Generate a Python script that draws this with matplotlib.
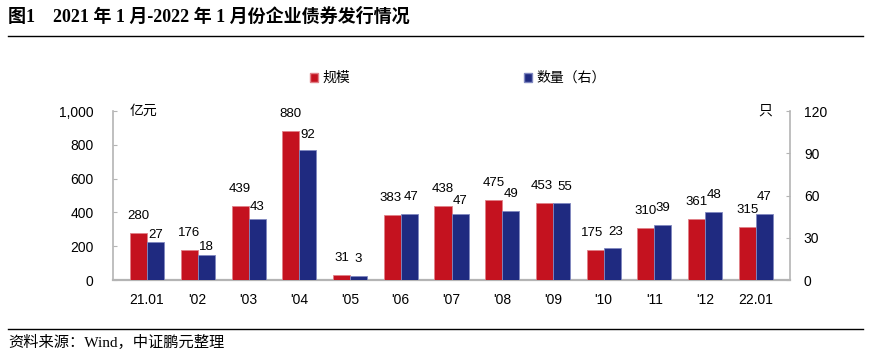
import matplotlib
matplotlib.use("Agg")
import matplotlib.pyplot as plt
import numpy as np
from matplotlib.patches import Patch
from matplotlib.lines import Line2D

plt.rcParams['font.family'] = ['Liberation Sans', 'Noto Sans CJK SC', 'DejaVu Sans']

categories = ["21.01", "'02", "'03", "'04", "'05", "'06", "'07", "'08", "'09", "'10", "'11", "'12", "22.01"]
scale = [280, 176, 439, 880, 31, 383, 438, 475, 453, 175, 310, 361, 315]
count = [27, 18, 43, 92, 3, 47, 47, 49, 55, 23, 39, 48, 47]
left_ticks = [0, 200, 400, 600, 800, 1000]
left_ticklabels = ["0", "200", "400", "600", "800", "1,000"]
right_ticks = [0, 30, 60, 90, 120]

RED = "#C4121F"
BLUE = "#1F2A80"
GRAY = "#B4B4B4"

W, H = 871, 354
fig = plt.figure(figsize=(W / 100, H / 100), dpi=100)
ax = fig.add_axes([113 / W, (H - 280) / H, (790 - 113) / W, (280 - 111) / H])
ax2 = ax.twinx()

x = np.arange(len(categories))
bw = 0.335
ax.bar(x - bw / 2, scale, width=bw, color=RED, edgecolor="#E08088", linewidth=0.6, zorder=3)
ax2.bar(x + bw / 2, count, width=bw, color=BLUE, edgecolor="#8088C0", linewidth=0.6, zorder=3)

ax.set_xlim(-0.67, len(categories) - 1 + 0.67)
ax.set_ylim(0, 1000)
ax2.set_ylim(0, 120)
ax.set_yticks(left_ticks)
ax.set_yticklabels(left_ticklabels)
ax2.set_yticks(right_ticks)
ax.set_xticks(x)
ax.set_xticklabels(categories)

for a in (ax, ax2):
    for s in a.spines.values():
        s.set_visible(False)
ax.spines['left'].set_visible(True)
ax.spines['bottom'].set_visible(True)
ax2.spines['right'].set_visible(True)
ax.spines['left'].set_color(GRAY)
ax.spines['bottom'].set_color(GRAY)
ax2.spines['right'].set_color(GRAY)
ax.spines['left'].set_linewidth(1.2)
ax.spines['bottom'].set_linewidth(1.6)
ax2.spines['right'].set_linewidth(1.2)

ax.tick_params(axis='y', direction='in', length=3, color=GRAY, labelsize=10, pad=14)
ax2.tick_params(axis='y', direction='in', length=3, color=GRAY, labelsize=10, pad=10)
ax.tick_params(axis='x', length=0, labelsize=10, pad=9)

# data labels (offsets in px: vertical distance from bar top; horizontal nudges)
red_off = [17] * len(scale)
blue_off = [7, 8, 12, 15, 17, 17, 13, 17, 16, 16, 17, 17, 17]
red_dx = [0, 0, 0, 0, 0, -2, 0, 0, -3, -3, 0, 0, 0]
blue_dx = [0, 0, 0, 0, 0, 2, 0, 0, 3, 3, 0, 0, 0]
for i, v in enumerate(scale):
    ax.annotate(str(v), (x[i] - bw / 2, v), xytext=(red_dx[i] * 0.72, red_off[i] * 0.72),
                textcoords='offset points', ha='center', va='center', fontsize=9.5, zorder=5)
for i, v in enumerate(count):
    ax2.annotate(str(v), (x[i] + bw / 2, v), xytext=(blue_dx[i] * 0.72, blue_off[i] * 0.72),
                 textcoords='offset points', ha='center', va='center', fontsize=9.5, zorder=5)

# unit labels
fig.text(130 / W, 1 - 111 / H, "亿元", fontsize=10, va='center', ha='left', family=['Noto Sans CJK SC'])
fig.text(772 / W, 1 - 111 / H, "只", fontsize=10, va='center', ha='right', family=['Noto Sans CJK SC'])

# legend
handles = [Patch(facecolor=RED, edgecolor="#E08088"), Patch(facecolor=BLUE, edgecolor="#8088C0")]
leg = fig.legend(handles, ["规模", "数量（右）"], loc='center', bbox_to_anchor=(458 / W, 1 - 78 / H),
                 ncol=2, frameon=False, handlelength=0.6, handleheight=0.6, handletextpad=0.3,
                 columnspacing=12.5, prop={'family': ['Noto Sans CJK SC'], 'size': 10})

# title and rules
fig.text(8 / W, 1 - 17 / H, "图1    2021 年 1 月-2022 年 1 月份企业债券发行情况", fontsize=13,
         fontweight='bold', va='center', ha='left', family=['Liberation Serif', 'Noto Sans CJK SC'])
fig.add_artist(Line2D([8 / W, 863 / W], [1 - 36 / H, 1 - 36 / H], color='black', linewidth=1.0))
fig.add_artist(Line2D([8 / W, 863 / W], [1 - 329 / H, 1 - 329 / H], color='black', linewidth=1.0))
fig.text(8 / W, 1 - 342 / H, "资料来源：Wind，中证鹏元整理", fontsize=11, va='center', ha='left',
         family=['Liberation Serif', 'Noto Sans CJK SC'])

fig.savefig("out.png", dpi=100)
